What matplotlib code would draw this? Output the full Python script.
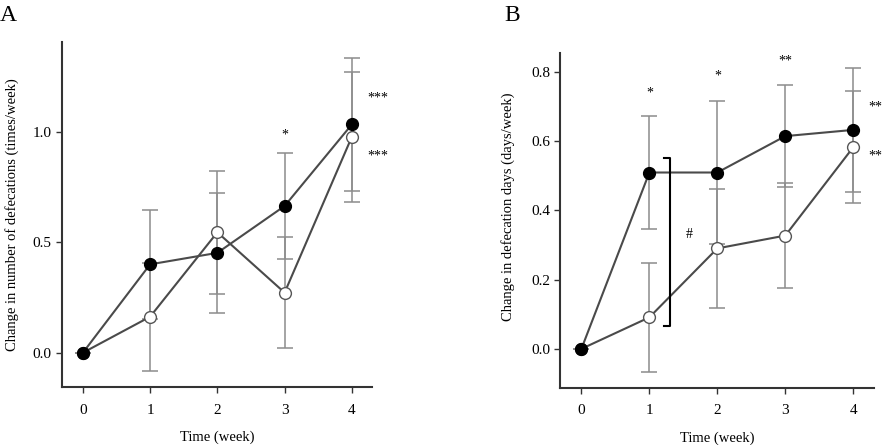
import matplotlib
matplotlib.use("Agg")
import matplotlib.pyplot as plt

weeks = [0, 1, 2, 3, 4]

# Panel A: change in number of defecations (times/week)
a_filled = [0.0, 0.40, 0.452, 0.664, 1.033]
a_filled_err = [0.0, 0.246, 0.27, 0.241, 0.302]
a_open = [0.0, 0.163, 0.545, 0.272, 0.977]
a_open_err = [0.0, 0.244, 0.279, 0.25, 0.293]

# Panel B: change in defecation days (days/week)
b_filled = [0.0, 0.509, 0.509, 0.614, 0.632]
b_filled_err = [0.0, 0.164, 0.205, 0.147, 0.178]
b_open = [0.0, 0.091, 0.290, 0.327, 0.582]
b_open_err = [0.0, 0.158, 0.172, 0.152, 0.162]

a_yticks = [0.0, 0.5, 1.0]
a_ytick_labels = ["0.0", "0.5", "1.0"]
b_yticks = [0.0, 0.2, 0.4, 0.6, 0.8]
b_ytick_labels = ["0.0", "0.2", "0.4", "0.6", "0.8"]

plt.rcParams['font.family'] = ['Liberation Serif', 'DejaVu Serif']

fig = plt.figure(figsize=(8.82, 4.45), dpi=100)
axA = fig.add_axes([0.0703, 0.1303, 0.3515, 0.7753])
axB = fig.add_axes([0.6353, 0.1288, 0.356, 0.7514])

line_col = "#4a4a4a"
err_col = "#8c8c8c"


def draw(ax, filled, ferr, opn, oerr):
    ax.errorbar(weeks, filled, yerr=ferr, fmt="none", ecolor=err_col,
                elinewidth=1.1, capsize=6, capthick=1.1, zorder=1)
    ax.errorbar(weeks, opn, yerr=oerr, fmt="none", ecolor=err_col,
                elinewidth=1.1, capsize=6, capthick=1.1, zorder=1)
    ax.plot(weeks, opn, "-", color=line_col, lw=1.5, zorder=2)
    ax.plot(weeks, filled, "-", color=line_col, lw=1.5, zorder=2)
    ax.plot(weeks, opn, "o", ms=8.5, mfc="white", mec="#555555", mew=1.0, zorder=3)
    ax.plot(weeks, filled, "o", ms=8.5, mfc="black", mec="black", mew=1.0, zorder=4)
    for s in ["top", "right"]:
        ax.spines[s].set_visible(False)
    for s in ["left", "bottom"]:
        ax.spines[s].set_color("#333333")
        ax.spines[s].set_linewidth(1.5)
    ax.set_xticks(weeks)
    ax.tick_params(axis="both", colors="#333333", labelcolor="black",
                   labelsize=11, length=4, width=1.0, direction="out")
    ax.tick_params(axis="x", pad=8)
    ax.set_xlabel("Time (week)", fontsize=10.5, labelpad=10)


draw(axA, a_filled, a_filled_err, a_open, a_open_err)
axA.set_xlim(-0.31, 4.30)
axA.set_ylim(-0.155, 1.406)
axA.set_yticks(a_yticks)
axA.set_yticklabels(a_ytick_labels)
axA.set_ylabel("Change in number of defecations (times/week)", fontsize=10.5, labelpad=10)
axA.text(3, 0.985, "*", ha="center", va="center", fontsize=10)
axA.text(4.39, 1.154, "***", ha="center", va="center", fontsize=10)
axA.text(4.39, 0.891, "***", ha="center", va="center", fontsize=10)

draw(axB, b_filled, b_filled_err, b_open, b_open_err)
axB.set_xlim(-0.31, 4.31)
axB.set_ylim(-0.112, 0.853)
axB.set_yticks(b_yticks)
axB.set_yticklabels(b_ytick_labels)
axB.set_ylabel("Change in defecation days (days/week)", fontsize=10.5, labelpad=10)
axB.yaxis.set_label_coords(-0.145, 0.54)
axB.text(1, 0.739, "*", ha="center", va="center", fontsize=10)
axB.text(2, 0.786, "*", ha="center", va="center", fontsize=10)
axB.text(3, 0.830, "**", ha="center", va="center", fontsize=10)
axB.text(4.22, 0.697, "**", ha="left", va="center", fontsize=10, clip_on=False)
axB.text(4.22, 0.557, "**", ha="left", va="center", fontsize=10, clip_on=False)
# bracket
axB.plot([1.22, 1.30, 1.30, 1.22], [0.552, 0.552, 0.066, 0.066], color="black", lw=1.5,
         clip_on=False, zorder=5)
axB.text(1.58, 0.329, "#", ha="center", va="center", fontsize=10)

fig.text(0.0, 0.965, "A", fontsize=17, ha="left", va="center")
fig.text(0.5715, 0.965, "B", fontsize=17, ha="left", va="center")

fig.savefig("out.png", dpi=100)
